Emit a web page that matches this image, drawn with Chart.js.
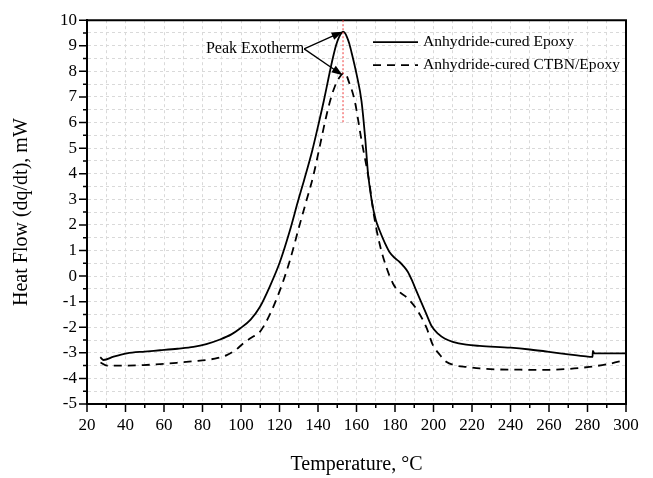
<!DOCTYPE html>
<html>
<head>
<meta charset="utf-8">
<title>DSC heat flow</title>
<script src="https://cdn.jsdelivr.net/npm/chart.js@4.4.1/dist/chart.umd.min.js"></script>
<style>
    html, body { margin: 0; padding: 0; background: #fff; }
    #wrap { width: 653px; height: 478px; position: relative; }
</style>
</head>
<body>
<div id="wrap"><canvas id="dsc"></canvas></div>
<script>
// ---- data (temperature in °C, heat flow in mW) ----
const seriesLabels = ['Anhydride-cured Epoxy', 'Anhydride-cured CTBN/Epoxy'];

const tempEpoxy = [
    26.9, 28.6, 33.8, 40.7, 50, 58, 67, 75.3, 82, 89.1, 95, 99.5, 105, 109.8,
    115, 120.2, 125.4, 129.7, 132.7, 137, 140, 143, 145.5, 147.8, 149.5, 151, 152.2, 153,
    154, 155, 156.2, 157.4, 160, 162.6, 164.5, 166, 168, 170, 172, 175, 177.2, 180, 182.4,
    184.5, 186.7, 189, 191, 193.5, 196.2, 199, 202.3, 206, 210, 217, 224, 240,
    250, 260, 270, 278, 282.6, 282.8, 283.5, 290, 300
];
const flowEpoxy = [
    -3.17, -3.28, -3.15, -3.02, -2.95, -2.9, -2.84, -2.77, -2.66, -2.48, -2.28, -2.05, -1.7, -1.21,
    -0.4, 0.55, 1.78, 2.95, 3.73, 4.9, 5.85, 6.84, 7.75, 8.55, 9.05, 9.35, 9.5, 9.55,
    9.5, 9.35, 9.1, 8.75, 7.9, 6.84, 5.4, 4.0, 2.9, 2.2, 1.78, 1.25, 0.93, 0.7, 0.55,
    0.38, 0.16, -0.2, -0.56, -1.0, -1.47, -1.95, -2.25, -2.45, -2.57, -2.68, -2.73, -2.8,
    -2.87, -2.96, -3.06, -3.13, -3.16, -2.92, -3.02, -3.02, -3.02
];

const tempCtbn = [
    27, 30.4, 40, 49.3, 58, 66.6, 75, 83.9, 88, 92.6, 97, 101.2, 105.5, 109.8,
    115, 120.2, 125.4, 130.6, 134, 137.5, 141, 144, 146.5, 148.7, 151, 153.9,
    156, 159.1, 162.5, 166.5, 169, 172, 175.5, 179, 182, 185.9, 191, 196.2,
    199.7, 203, 206.6, 212, 217, 224, 234, 245, 258, 270, 281, 290, 300
];
const flowCtbn = [
    -3.38, -3.5, -3.5, -3.48, -3.44, -3.39, -3.33, -3.26, -3.2, -3.09, -2.9, -2.63, -2.4, -2.18,
    -1.5, -0.56, 0.61, 2.04, 2.95, 3.9, 5.1, 6.15, 6.9, 7.4, 7.75, 7.95,
    7.6, 6.84, 5.35, 3.73, 2.4, 1.26, 0.35, -0.3, -0.6, -0.82, -1.27, -1.99,
    -2.7, -3.05, -3.35, -3.5, -3.55, -3.61, -3.65, -3.66, -3.67, -3.63, -3.55, -3.45, -3.28
];

// axis ranges and tick steps
const xRange = [20, 300];
const yRange = [-5, 10];
const xMinorStep = 10, xMajorStep = 20;
const yMinorStep = 0.5, yMajorStep = 1;

// "Peak Exotherm" annotation: text anchor, arrow tips, red marker line
const peakLabel = 'Peak Exotherm';
const peakLabelAt = [132.8, 8.88];
const peakArrowTips = [[152.8, 9.55], [152.8, 7.85]];
const peakMarkerT = 153;
const peakMarkerRange = [6, 10];

const FONT = "'Liberation Serif', 'Times New Roman', serif";

/** zip two arrays into Chart.js {x, y} points */
function toPoints(xs, ys) {
    return xs.map((x, i) => ({ x, y: ys[i] }));
}

/** frame, outward ticks (major/minor), legend and annotation */
const decorations = {
    id: 'decorations',
    afterDraw(chart) {
        const { ctx, chartArea: ca, scales: { x, y } } = chart;
        ctx.save();

        // top/right frame lines
        ctx.strokeStyle = '#000';
        ctx.lineWidth = 2;
        ctx.beginPath();
        ctx.moveTo(ca.left, ca.top);
        ctx.lineTo(ca.right, ca.top);
        ctx.lineTo(ca.right, ca.bottom);
        ctx.stroke();

        // outward tick marks
        ctx.lineWidth = 1.5;
        ctx.beginPath();
        x.ticks.forEach((t) => {
            const px = x.getPixelForValue(t.value);
            const len = t.value % xMajorStep === 0 ? 8 : 4;
            ctx.moveTo(px, ca.bottom);
            ctx.lineTo(px, ca.bottom + len);
        });
        y.ticks.forEach((t) => {
            const py = y.getPixelForValue(t.value);
            const len = Math.abs(t.value % yMajorStep) < 1e-9 ? 8 : 4;
            ctx.moveTo(ca.left, py);
            ctx.lineTo(ca.left - len, py);
        });
        ctx.stroke();

        // red dotted marker through the peaks
        const mx = x.getPixelForValue(peakMarkerT);
        ctx.strokeStyle = '#f03c3c';
        ctx.lineWidth = 1;
        ctx.setLineDash([2, 2]);
        ctx.beginPath();
        ctx.moveTo(mx, y.getPixelForValue(peakMarkerRange[1]));
        ctx.lineTo(mx, y.getPixelForValue(peakMarkerRange[0]));
        ctx.stroke();
        ctx.setLineDash([]);

        // annotation text + arrows
        const ax = x.getPixelForValue(peakLabelAt[0]);
        const ay = y.getPixelForValue(peakLabelAt[1]);
        ctx.fillStyle = '#000';
        ctx.font = '16px ' + FONT;
        ctx.textAlign = 'right';
        ctx.textBaseline = 'middle';
        ctx.fillText(peakLabel, ax, ay);
        ctx.strokeStyle = '#000';
        ctx.lineWidth = 1.3;
        peakArrowTips.forEach(([tx, ty]) => {
            const px = x.getPixelForValue(tx);
            const py = y.getPixelForValue(ty);
            const ang = Math.atan2(py - ay, px - ax);
            ctx.beginPath();
            ctx.moveTo(ax, ay);
            ctx.lineTo(px - 8 * Math.cos(ang), py - 8 * Math.sin(ang));
            ctx.stroke();
            ctx.beginPath();
            ctx.moveTo(px, py);
            ctx.lineTo(px - 11 * Math.cos(ang) + 4 * Math.sin(ang), py - 11 * Math.sin(ang) - 4 * Math.cos(ang));
            ctx.lineTo(px - 11 * Math.cos(ang) - 4 * Math.sin(ang), py - 11 * Math.sin(ang) + 4 * Math.cos(ang));
            ctx.closePath();
            ctx.fill();
        });

        // legend, top right inside the frame
        const lx = ca.left + 286;
        const ly = ca.top + 22;
        ctx.font = '15.6px ' + FONT;
        ctx.textAlign = 'left';
        chart.data.datasets.forEach((ds, i) => {
            const rowY = ly + i * 23;
            ctx.strokeStyle = ds.borderColor;
            ctx.lineWidth = ds.borderWidth;
            ctx.setLineDash(ds.borderDash || []);
            ctx.beginPath();
            ctx.moveTo(lx, rowY);
            ctx.lineTo(lx + 45, rowY);
            ctx.stroke();
            ctx.setLineDash([]);
            ctx.fillText(ds.label, lx + 50, rowY);
        });

        ctx.restore();
    }
};

const gridStyle = {
    color: '#d9d9d9',
    lineWidth: 1,
    drawTicks: false
};

const chart = new Chart(document.getElementById('dsc'), {
    type: 'line',
    data: {
        datasets: [
            {
                label: seriesLabels[0],
                data: toPoints(tempEpoxy, flowEpoxy),
                borderColor: '#000',
                borderWidth: 1.8,
                pointRadius: 0,
                cubicInterpolationMode: 'monotone'
            },
            {
                label: seriesLabels[1],
                data: toPoints(tempCtbn, flowCtbn),
                borderColor: '#000',
                borderWidth: 1.8,
                borderDash: [8, 6],
                pointRadius: 0,
                cubicInterpolationMode: 'monotone'
            }
        ]
    },
    options: {
        responsive: true,
        maintainAspectRatio: false,
        animation: false,
        layout: { padding: { left: 0, top: 19, right: 27, bottom: 0 } },
        plugins: {
            legend: { display: false },
            tooltip: { enabled: false }
        },
        scales: {
            x: {
                type: 'linear',
                min: xRange[0],
                max: xRange[1],
                grid: gridStyle,
                border: { display: true, color: '#000', width: 2, dash: [3, 3] },
                ticks: {
                    stepSize: xMinorStep,
                    autoSkip: false,
                    maxRotation: 0,
                    padding: 11,
                    color: '#000',
                    font: { family: FONT, size: 17 },
                    callback: (v) => (v % xMajorStep === 0 ? String(v) : '')
                },
                title: {
                    display: true,
                    text: 'Temperature, °C',
                    color: '#000',
                    font: { family: FONT, size: 20 },
                    padding: { top: 0, bottom: 1 }
                },
                afterFit: (scale) => { scale.height = 74; }
            },
            y: {
                min: yRange[0],
                max: yRange[1],
                grid: gridStyle,
                border: { display: true, color: '#000', width: 2, dash: [3, 3] },
                ticks: {
                    stepSize: yMinorStep,
                    autoSkip: false,
                    padding: 10,
                    color: '#000',
                    font: { family: FONT, size: 17 },
                    callback: (v) => (Math.abs(v % yMajorStep) < 1e-9 ? String(v) : '')
                },
                title: {
                    display: true,
                    text: 'Heat Flow (dq/dt), mW',
                    color: '#000',
                    font: { family: FONT, size: 20 },
                    padding: { top: 10, bottom: 0 }
                },
                afterFit: (scale) => { scale.width = 87; }
            }
        }
    },
    plugins: [decorations]
});
</script>
</body>
</html>
